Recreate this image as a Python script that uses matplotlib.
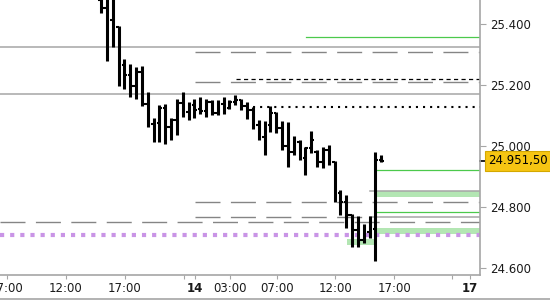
import numpy as np
import matplotlib
matplotlib.use('Agg')
import matplotlib.pyplot as plt
from matplotlib.ticker import FuncFormatter
from matplotlib.lines import Line2D

# 30 min OHLC bars (x = bar index)
opens = [25479, 25452, 25413, 25390, 25266, 25233, 25197, 25243, 25138, 25072,
         25075, 25125, 25062, 25085, 25141, 25111, 25134, 25121, 25115, 25144,
         25108, 25138, 25125, 25144, 25151, 25131, 25118, 25069, 25030, 25069,
         25108, 25059, 25000, 24980, 25013, 24961, 24993, 24980, 24947, 24987,
         24947, 24846, 24816, 24774, 24725, 24692, 24718, 24728, 24954]
highs = [25495, 25495, 25488, 25393, 25285, 25269, 25259, 25262, 25177, 25092,
         25134, 25138, 25092, 25154, 25177, 25144, 25154, 25161, 25154, 25151,
         25151, 25161, 25151, 25167, 25154, 25144, 25128, 25085, 25082, 25131,
         25111, 25082, 25079, 25033, 25020, 24997, 25049, 24987, 24997, 25003,
         24951, 24856, 24839, 24777, 24770, 24744, 24770, 24980, 24970]
lows = [25436, 25279, 25325, 25197, 25187, 25161, 25154, 25131, 25062, 25013,
        25013, 25007, 25020, 25036, 25095, 25085, 25092, 25105, 25095, 25102,
        25102, 25105, 25121, 25134, 25118, 25089, 25056, 25020, 24970, 25046,
        25043, 24987, 24931, 24970, 24954, 24905, 24977, 24931, 24928, 24938,
        24816, 24774, 24731, 24669, 24669, 24682, 24698, 24623, 24947]
closes = [25452, 25387, 25390, 25266, 25233, 25197, 25243, 25138, 25072, 25075,
          25125, 25062, 25085, 25141, 25111, 25134, 25118, 25115, 25144, 25108,
          25138, 25111, 25144, 25151, 25131, 25118, 25069, 25030, 25069, 25108,
          25059, 25000, 24980, 25020, 24961, 24993, 25020, 24947, 24987, 24947,
          24846, 24816, 24774, 24725, 24692, 24718, 24728, 24954, 24951.5]

tick_pos = [-16.1, -6.0, 4.1, 14.2, 16.1, 22.1, 30.1, 40.1, 50.2, 60.1, 63.2]
tick_labels = ['17:00', '12:00', '17:00', '', '14', '03:00', '07:00', '12:00', '17:00', '', '17']
bold_labels = ['14', '17']

y_ticks = [24600, 24800, 25000, 25200, 25400]

# horizontal levels: (price, start, end)
XMIN, XMAX = -17.3, 64.9
gray_solid = [(25325, XMIN, XMAX), (25170, XMIN, XMAX), (24852, 46, XMAX), (24767, 46, XMAX)]
gray_dashed = [(25308, 16.1, XMAX), (25210, 16.1, XMAX), (24816, 16.1, XMAX),
               (24767, 16.1, 46), (24751, XMIN, XMAX)]
green_lines = [(25357, 35.1, XMAX), (24921, 47.3, XMAX), (24784, 47.3, XMAX)]
green_bands = [(24832, 24852, 47.3, XMAX), (24711, 24731, 47.3, XMAX), (24675, 24695, 42.1, 47)]
black_dashed = [(25220, 23.1, XMAX)]
black_dotted = [(25128, 26, XMAX)]
purple_dotted = [(24708, XMIN, XMAX)]

plt.rcParams['lines.scale_dashes'] = False
fig = plt.figure(figsize=(5.5, 3), dpi=100)
ax = fig.add_axes([0, 25/300, 480/550, 275/300])

x = np.arange(len(opens))

for lo, hi, a, b in green_bands:
    ax.fill_between([a, b], lo, hi, color='#b3e6b3', lw=0, zorder=1)
for p, a, b in gray_solid:
    ax.plot([a, b], [p, p], color='#a6a6a6', lw=1.1, zorder=2)
for p, a, b in gray_dashed:
    ax.plot([a, b], [p, p], color='#858585', lw=1.0, ls=(0, (18, 7.5)), zorder=2)
for p, a, b in green_lines:
    ax.plot([a, b], [p, p], color='#4cc94c', lw=0.9, zorder=2)
for p, a, b in black_dashed:
    ax.plot([a, b], [p, p], color='black', lw=0.9, ls=(0, (3, 2.4)), zorder=2)
for p, a, b in black_dotted:
    ax.plot([a, b], [p, p], color='black', lw=1.5, ls=(0, (1.5, 3.6)), zorder=2)
for p, a, b in purple_dotted:
    ax.plot([a, b], [p, p], color='#c994e6', lw=3.0, ls=(0, (3, 4.3)), zorder=2)

ax.vlines(x, lows, highs, color='black', lw=2.2, zorder=3)
ax.hlines(opens, x - 0.45, x, color='black', lw=1.5, zorder=3)
ax.hlines(closes, x, x + 0.45, color='black', lw=1.5, zorder=3)

ax.set_xlim(XMIN, XMAX)
ax.set_ylim(24577, 25479)

for s in ['left', 'top']:
    ax.spines[s].set_visible(False)
for s in ['right', 'bottom']:
    ax.spines[s].set_color('#a6a6a6')
    ax.spines[s].set_linewidth(1.2)

ax.yaxis.tick_right()
ax.set_yticks(y_ticks)
ax.yaxis.set_major_formatter(FuncFormatter(lambda v, _: f'{v:,.0f}'.replace(',', '.')))
ax.tick_params(axis='y', length=4, color='#a6a6a6', labelsize=8.5, labelcolor='#1a1a1a', pad=3)

ax.set_xticks(tick_pos)
ax.set_xticklabels(tick_labels)
ax.tick_params(axis='x', length=3, color='#a6a6a6', labelsize=8.5, labelcolor='#1a1a1a', pad=2)
for lab in ax.get_xticklabels():
    if lab.get_text() in bold_labels:
        lab.set_fontweight('bold')

# current price label
last = closes[-1]
txt = f'{last:,.2f}'.replace(',', '#').replace('.', ',').replace('#', '.')
ax.plot([1.0, 1.013], [last, last], color='black', lw=1.2,
        transform=ax.get_yaxis_transform(), clip_on=False)
ax.text(1.017, last, txt, transform=ax.get_yaxis_transform(), va='center', ha='left',
        fontsize=8.5, color='black',
        bbox=dict(boxstyle='square,pad=0.3', fc='#f6c513', ec='#d4a800', lw=0.8))

fig.add_artist(Line2D([0, 1], [0.003, 0.003], color='#a6a6a6', lw=1.2))

fig.savefig('out.png', dpi=100)
